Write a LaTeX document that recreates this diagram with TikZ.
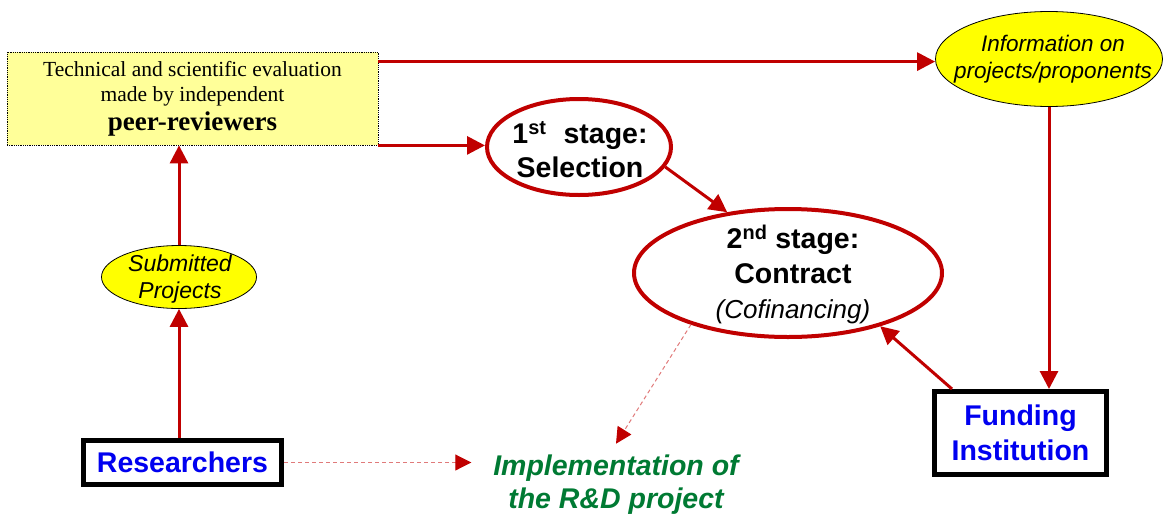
\documentclass[tikz,border=0pt]{standalone}
\usepackage{fontspec}
\setmainfont{Liberation Sans}
\newfontfamily\peerfont{Liberation Serif}
\usetikzlibrary{arrows.meta,shapes.geometric}
\definecolor{dred}{HTML}{C00000}
\definecolor{lred}{HTML}{E07A7A}
\definecolor{ylw}{HTML}{FFFF00}
\definecolor{lylw}{HTML}{FFFF99}
\definecolor{bblue}{HTML}{0000F0}
\definecolor{dgreen}{HTML}{007A33}
\begin{document}
\begin{tikzpicture}[x=1pt,y=-1pt,
  arr/.style={draw=dred, line width=3pt, -{Triangle[length=18pt,width=18pt]}},
  darr/.style={draw=lred, line width=1pt, dash pattern=on 4pt off 3pt, -{Triangle[length=16pt,width=16pt,color=dred]}},
  stage/.style={ellipse, draw=dred, line width=4pt, fill=white, inner sep=0pt},
  note/.style={ellipse, draw=black, line width=0.8pt, fill=ylw, inner sep=0pt},
  actor/.style={rectangle, draw=black, line width=5pt, fill=white, inner sep=0pt, align=center, text=bblue, font=\fontsize{28.5}{35}\selectfont\bfseries},
  txt/.style={inner sep=0pt, align=center}
]
\useasboundingbox (0,0) rectangle (1165,517);

% nodes
\node[rectangle, draw=black, line width=0.8pt, densely dotted, fill=lylw, minimum width=371pt, minimum height=93pt, inner sep=0pt, align=center, font={\peerfont\fontsize{21.5}{25}\selectfont}] (peer) at (192.5,98.5)
  {Technical and scientific evaluation\\ made by independent\\[4pt] {\fontsize{27}{29}\selectfont\bfseries peer-reviewers}};

\node[note, minimum width=227pt, minimum height=95pt] (info) at (1049,59) {};
\node[txt, font=\fontsize{22.5}{26.5}\selectfont\itshape] (infotxt) at (1053,59) {Information on\\ projects/proponents};

\node[stage, minimum width=184pt, minimum height=96pt] (sel) at (579,147) {};
\node[txt, font=\fontsize{28.5}{34}\selectfont\bfseries] (seltxt) at (580,150) {1\textsuperscript{st}\hspace{0.6em}stage:\\ Selection};

\node[stage, minimum width=308pt, minimum height=128pt] (con) at (788,273) {};
\node[txt, font=\fontsize{28.5}{35}\selectfont\bfseries] (contxt) at (793,274.5) {2\textsuperscript{nd} stage:\\ Contract\\ {\mdseries\itshape\fontsize{26}{34}\selectfont (Cofinancing)}};

\node[note, minimum width=155pt, minimum height=63pt] (sub) at (179,277) {};
\node[txt, font=\fontsize{23}{26.5}\selectfont\itshape] (subtxt) at (180,279) {Submitted\\ Projects};

\node[actor, minimum width=198pt, minimum height=44pt] (res) at (182.5,462.5) {Researchers};
\node[actor, minimum width=172pt, minimum height=83pt] (fund) at (1020.5,433) {Funding\\ Institution};

\node[txt, outer xsep=22pt, outer ysep=11pt, text=dgreen, font=\fontsize{28.5}{33}\selectfont\bfseries\itshape] (impl) at (616,484.5) {Implementation of\\ the R\&D project};

% connectors
\draw[arr] ([yshift=-10pt]peer.north east) coordinate (p1) -- (p1 -| info.west);
\draw[arr] (peer.south east) -- (peer.south east -| sel.west);
\draw[arr] (sel.-13) -- (con.135);
\draw[arr] (info.south) -- (fund.north -| info.south);
\draw[arr] ([xshift=20pt]fund.north west) -- (con.-30);
\draw[arr] (res.north -| sub.south) -- (sub.south);
\draw[arr] (sub.north) -- (peer.south -| sub.north);
\draw[darr] (res.east) -- (res.east -| impl.west);
\draw[darr] (con.208) -- (impl.north);
\end{tikzpicture}
\end{document}
